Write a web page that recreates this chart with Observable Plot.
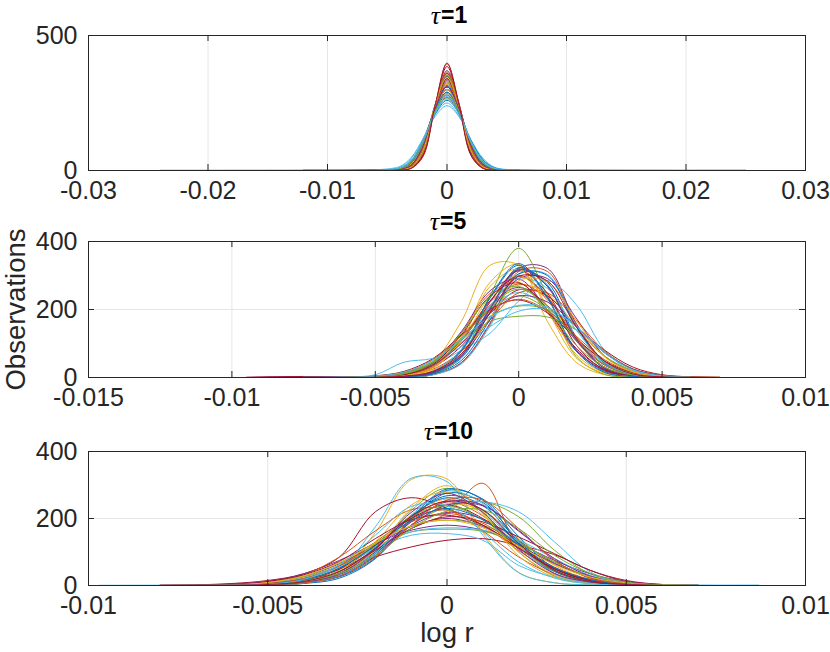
<!DOCTYPE html>
<html>
<head>
<meta charset="utf-8">
<script src="https://cdn.jsdelivr.net/npm/d3@7"></script>
<script src="https://cdn.jsdelivr.net/npm/@observablehq/plot@0.6"></script>
<style>
  body { margin: 0; background: #fff; }
  #chart { width: 830px; height: 652px; position: relative; }
  #chart svg { display: block; }
</style>
</head>
<body>
<div id="chart"></div>
<script>
// MATLAB default line colour order
const colors = ["#0072BD", "#D95319", "#EDB120", "#7E2F8E", "#77AC30", "#4DBEEE", "#A2142F"];

// ---------- tau = 1 ----------
const tau1Grid = [-0.024, -0.012, -0.006, -0.004, -0.003, -0.002, -0.001, 0, 0.001, 0.002, 0.003, 0.004, 0.006, 0.012, 0.025];
const tau1Curves = [
  [null, null, 1, 3, 15, 80, 230, 330, 238, 88, 17, 3, 1, 0.5, 0.3],
  [null, null, 0.5, 2, 8, 52, 236, 395, 250, 58, 9, 2, 0.5, null, null],
  [null, null, 1, 3, 13, 78, 242, 350, 232, 72, 12, 3, 1, null, null],
  [0.3, 0.5, 1, 2, 10, 62, 232, 370, 248, 70, 11, 2, 0.5, null, null],
  [0.3, 0.5, 1, 4, 20, 94, 236, 320, 228, 84, 16, 4, 1, null, null],
  [null, null, 2, 11, 44, 118, 208, 250, 202, 110, 40, 9, 2, null, null],
  [null, 0.5, 1, 2, 9, 58, 238, 385, 246, 62, 9, 2, 0.5, null, null],
  [null, null, 1, 6, 26, 102, 230, 300, 222, 92, 22, 5, 1, null, null],
  [null, null, 1, 3, 14, 76, 232, 340, 240, 82, 16, 3, 1, null, null],
  [null, null, 1, 3, 12, 68, 236, 360, 244, 74, 12, 3, 1, 0.5, null],
  [null, null, 2, 7, 32, 108, 222, 280, 214, 100, 28, 6, 1, null, null],
  [null, null, 1, 5, 22, 94, 222, 300, 230, 100, 26, 5, 1, null, null],
  [null, null, 1, 4, 17, 86, 236, 330, 232, 82, 15, 3, 1, null, null],
  [null, 0.5, 2, 8, 36, 112, 218, 270, 210, 104, 32, 6, 1, null, null],
  [null, null, 1, 3, 14, 80, 244, 350, 232, 70, 12, 3, 1, null, null],
  [null, null, 1, 5, 22, 96, 232, 310, 226, 90, 20, 4, 1, null, null],
  [null, null, 1, 3, 15, 82, 230, 330, 238, 86, 17, 4, 1, null, null],
  [null, null, 1, 3, 12, 72, 234, 350, 242, 78, 14, 3, 1, null, null],
  [null, null, 2, 8, 34, 106, 212, 270, 216, 110, 36, 7, 1, null, null],
  [null, null, 3, 14, 48, 118, 200, 240, 200, 114, 46, 12, 2, 0.5, 0.3],
  [null, null, 1, 3, 12, 72, 240, 360, 240, 70, 12, 3, 1, null, null],
  [null, null, 2, 8, 36, 110, 208, 260, 212, 112, 40, 9, 2, 0.5, 0.3],
  [null, null, 1, 6, 28, 102, 224, 290, 220, 98, 26, 5, 1, null, null],
  [null, null, 1, 4, 19, 92, 234, 320, 228, 86, 17, 4, 1, null, null],
  [null, null, 1, 5, 24, 100, 228, 300, 224, 94, 23, 5, 1, null, null],
  [null, null, 1, 3, 14, 78, 234, 340, 238, 80, 15, 3, 1, null, null],
  [null, null, 1, 6, 27, 100, 222, 290, 222, 100, 27, 6, 1, 0.5, 0.3],
  [null, 0.5, 1, 4, 21, 93, 229, 310, 229, 93, 21, 4, 1, null, null],
  [null, null, 1, 4, 19, 90, 226, 315, 232, 92, 20, 4, 1, null, null],
  [null, null, 1, 2, 11, 66, 238, 365, 242, 72, 11, 2, 0.5, null, null],
  [null, null, 1, 5, 24, 98, 230, 300, 222, 94, 22, 5, 1, null, null],
  [null, null, 1, 3, 15, 80, 228, 335, 240, 86, 17, 3, 1, null, null],
  [null, 0.5, 1, 3, 12, 70, 238, 355, 238, 72, 13, 3, 1, null, null],
  [null, null, 2, 8, 33, 106, 214, 275, 218, 108, 33, 7, 1, 0.5, 0.3],
  [null, null, 1, 3, 14, 78, 236, 340, 236, 78, 14, 3, 1, null, null],
  [null, null, 1, 6, 28, 104, 226, 290, 218, 96, 25, 5, 1, null, null],
  [null, null, 1, 4, 17, 86, 232, 325, 232, 86, 17, 4, 1, null, null],
  [null, null, 1, 3, 13, 76, 240, 345, 236, 76, 14, 3, 1, 0.5, null],
  [null, null, 1, 4, 20, 92, 228, 310, 230, 94, 22, 4, 1, null, null],
  [0.3, 0.5, 1, 6, 30, 104, 220, 285, 220, 102, 29, 6, 1, null, null],
  [null, null, 2, 9, 38, 112, 212, 265, 210, 108, 36, 8, 2, 0.5, 0.3],
  [null, null, 0.5, 2, 8, 54, 240, 398, 244, 56, 8, 2, 0.5, null, null]
];
const tau1XTicks = [-0.03, -0.02, -0.01, 0, 0.01, 0.02, 0.03];
const tau1XLabels = ["-0.03", "-0.02", "-0.01", "0", "0.01", "0.02", "0.03"];
const tau1YTicks = [0, 500];
const tau1YLabels = ["0", "500"];

// ---------- tau = 5 ----------
const tau5Grid = [-0.0095, -0.0075, -0.006, -0.005, -0.004, -0.003, -0.002, -0.001, 0, 0.001, 0.002, 0.003, 0.004, 0.005, 0.006, 0.007];
const tau5Curves = [
  [null, null, 0.5, 1, 3, 12, 57, 192, 323, 272, 114, 27, 6, 1, 0.5, null],
  [null, null, 0.5, 2, 7, 30, 108, 225, 300, 238, 108, 30, 7, 2, 0.5, null],
  [null, null, 0.5, 1, 8, 45, 165, 330, 330, 165, 45, 8, 2, 0.5, null, null],
  [0.3, 3, 1, 1, 2, 8, 44, 160, 321, 321, 160, 44, 8, 2, 0.5, null],
  [null, null, 0.3, 1, 2, 9, 62, 241, 380, 241, 62, 9, 2, 1, 0.3, null],
  [null, 0.5, 1, 3, 8, 35, 80, 130, 225, 285, 215, 80, 15, 3, 0.5, null],
  [null, null, 0.5, 2, 8, 30, 92, 188, 258, 240, 150, 80, 30, 8, 2, 0.5],
  [null, null, 0.5, 1, 3, 14, 68, 205, 315, 280, 120, 28, 5, 1, 0.3, null],
  [null, null, 0.5, 2, 10, 41, 131, 247, 280, 191, 78, 22, 6, 2, 0.5, null],
  [null, null, 0.5, 1, 5, 28, 117, 280, 333, 198, 58, 12, 3, 1, null, null],
  [null, null, 0.5, 1, 4, 17, 63, 175, 291, 291, 175, 63, 17, 4, 1, null],
  [null, null, 1, 4, 14, 42, 100, 165, 180, 178, 140, 75, 25, 6, 1.5, null],
  [null, null, 1, 3, 11, 43, 115, 206, 250, 206, 115, 43, 11, 3, 1, null],
  [null, 3, 1, 2, 7, 30, 108, 225, 298, 235, 110, 30, 7, 2, 0.5, null],
  [null, null, 0.5, 1, 4, 18, 82, 233, 330, 233, 82, 18, 4, 1, 0.5, null],
  [null, null, 0.5, 1, 2, 8, 42, 156, 312, 312, 156, 42, 8, 2, 0.5, null],
  [null, null, 0.5, 2, 8, 35, 102, 203, 272, 246, 151, 63, 18, 3, 1, null],
  [null, null, 0.5, 1, 8, 43, 135, 255, 290, 198, 81, 20, 5, 1, null, null],
  [null, null, 1, 3, 13, 47, 116, 200, 240, 200, 116, 47, 13, 3, 1, 0.5],
  [null, null, 0.5, 1, 2, 8, 40, 151, 303, 303, 151, 40, 8, 2, 0.5, null],
  [0.3, 2, 1, 5, 18, 55, 125, 200, 228, 190, 115, 48, 14, 3, 1, null],
  [null, null, 0.5, 1, 3, 13, 62, 200, 322, 268, 112, 26, 5, 1, 0.5, null],
  [null, null, 1, 2, 7, 24, 77, 169, 249, 249, 169, 77, 24, 7, 2, 0.5],
  [null, null, 0.5, 2, 7, 30, 108, 238, 300, 226, 108, 30, 7, 2, 0.5, null],
  [null, 2, 1, 3, 9, 36, 109, 212, 265, 212, 109, 36, 9, 3, 1, null],
  [null, null, 1, 4, 14, 45, 110, 180, 210, 200, 140, 62, 20, 5, 1.5, null],
  [null, 1, 2, 8, 45, 56, 90, 150, 195, 200, 150, 75, 22, 5, 1, null],
  [null, null, 0.5, 1, 4, 16, 78, 222, 314, 248, 96, 22, 5, 1, 0.5, null],
  [null, null, 0.5, 1, 3, 10, 50, 170, 305, 300, 150, 42, 8, 2, 0.5, null],
  [null, null, 0.5, 2, 8, 34, 112, 222, 275, 232, 118, 38, 9, 2, 0.5, null],
  [null, null, 0.5, 1, 5, 26, 110, 268, 318, 210, 68, 14, 3, 1, null, null],
  [null, null, 1, 3, 10, 36, 100, 190, 240, 222, 150, 72, 24, 6, 1.5, 0.3],
  [null, null, 1, 3, 10, 38, 112, 208, 260, 210, 112, 38, 10, 3, 1, null],
  [null, null, 0.5, 1, 4, 20, 80, 210, 292, 262, 140, 44, 9, 2, 0.5, null],
  [0.3, 2, 1, 2, 8, 38, 125, 240, 278, 200, 86, 24, 6, 2, 0.5, null],
  [null, null, 0.5, 1, 3, 15, 78, 236, 335, 236, 78, 15, 3, 1, null, null],
  [null, null, 1, 4, 15, 52, 122, 196, 230, 196, 122, 52, 15, 4, 1, 0.3],
  [null, null, 0.5, 1, 5, 20, 70, 175, 285, 282, 168, 60, 16, 4, 1, null],
  [null, null, 0.5, 1, 3, 14, 64, 202, 318, 268, 114, 28, 6, 1, 0.5, null],
  [null, null, 1, 3, 11, 44, 130, 236, 268, 200, 95, 30, 7, 2, 0.5, null],
  [null, 0.5, 1, 4, 16, 50, 112, 178, 212, 206, 150, 72, 22, 5, 1, null],
  [null, null, 0.5, 1, 4, 18, 70, 190, 298, 284, 150, 48, 10, 2, 0.5, null]
];
const tau5XTicks = [-0.015, -0.01, -0.005, 0, 0.005, 0.01];
const tau5XLabels = ["-0.015", "-0.01", "-0.005", "0", "0.005", "0.01"];
const tau5YTicks = [0, 200, 400];
const tau5YLabels = ["0", "200", "400"];

// ---------- tau = 10 ----------
const tau10Grid = [-0.0097, -0.008, -0.007, -0.006, -0.005, -0.004, -0.003, -0.002, -0.001, 0, 0.001, 0.002, 0.003, 0.004, 0.005, 0.006, 0.007, 0.0087];
const tau10Curves = [
  [null, null, null, 0.5, 2, 8, 26, 82, 194, 284, 258, 146, 51, 14, 4, 1, 0.3, null],
  [null, null, 0.3, 1, 4, 16, 50, 115, 204, 250, 208, 118, 45, 12, 3, 1, null, null],
  [null, null, 0.3, 0.5, 1, 6, 39, 158, 316, 318, 158, 39, 8, 2, 0.5, null, null, null],
  [null, null, null, 0.5, 3, 12, 42, 104, 178, 218, 198, 134, 66, 25, 7, 1.5, 0.3, null],
  [null, null, 0.3, 1, 2, 7, 30, 106, 224, 290, 218, 100, 28, 7, 2, 0.5, null, null],
  [0.3, 0.5, 1, 1, 3, 10, 48, 175, 320, 310, 150, 38, 8, 2, 1, 0.5, 0.3, 0.3],
  [null, 0.5, 1, 2, 5, 18, 40, 85, 115, 135, 140, 120, 92, 45, 12, 2, 0.5, null],
  [null, null, 0.3, 1, 3, 9, 28, 88, 196, 276, 248, 136, 46, 12, 3, 1, null, null],
  [null, null, 0.3, 1, 3, 10, 40, 100, 170, 215, 305, 115, 50, 18, 5, 1, null, null],
  [null, null, 0.3, 1, 3, 12, 40, 104, 196, 244, 222, 140, 60, 18, 4, 1, null, null],
  [null, null, 0.5, 2, 9, 27, 65, 121, 176, 200, 176, 121, 65, 27, 9, 2, 0.5, null],
  [null, null, null, 0.5, 3, 10, 35, 95, 180, 235, 250, 205, 105, 35, 8, 2, 0.5, null],
  [null, null, 0.3, 2, 6, 20, 55, 110, 150, 155, 135, 60, 25, 8, 2, 0.5, null, null],
  [null, 0.5, 2, 6, 15, 35, 85, 220, 262, 230, 180, 110, 50, 15, 4, 1, null, null],
  [null, null, 0.3, 1, 3, 10, 36, 100, 205, 268, 238, 132, 45, 12, 3, 1, null, null],
  [null, null, 0.5, 1, 5, 20, 60, 130, 200, 225, 180, 104, 42, 13, 3, 1, null, null],
  [null, null, 0.5, 1, 3, 12, 40, 110, 210, 258, 220, 118, 42, 10, 2, 0.5, null, null],
  [null, 0.5, 1, 3, 12, 35, 75, 125, 165, 180, 165, 125, 75, 35, 12, 3, 1, null],
  [null, null, 0.5, 2, 8, 25, 60, 115, 160, 168, 162, 125, 70, 25, 6, 1, null, null],
  [null, null, 0.3, 1, 3, 10, 35, 95, 180, 240, 250, 220, 130, 40, 8, 2, 0.5, 0.3],
  [null, null, 0.5, 1, 4, 15, 50, 120, 200, 240, 200, 120, 50, 15, 4, 1, null, null],
  [null, null, null, 0.5, 2, 6, 22, 80, 200, 288, 255, 128, 36, 7, 2, 0.5, null, null],
  [null, 0.3, 1, 2, 9, 32, 85, 163, 226, 226, 163, 85, 32, 9, 2, 0.5, null, null],
  [null, null, 0.3, 0.5, 2, 8, 32, 105, 230, 298, 215, 88, 24, 5, 1, null, null, null],
  [null, null, null, 0.5, 2, 9, 30, 90, 180, 240, 238, 165, 75, 22, 5, 1, null, null],
  [null, null, 0.5, 2, 8, 28, 68, 128, 178, 195, 180, 130, 70, 26, 7, 1.5, 0.3, null],
  [null, null, 0.5, 2, 7, 22, 58, 112, 160, 172, 165, 135, 80, 30, 8, 2, 0.5, 0.3],
  [null, null, 0.5, 2, 6, 18, 48, 105, 170, 205, 190, 145, 95, 45, 15, 3, 0.5, null],
  [null, null, 0.3, 1, 3, 12, 42, 112, 208, 262, 225, 122, 42, 11, 3, 1, null, null],
  [null, null, 0.5, 2, 6, 21, 58, 124, 190, 215, 186, 118, 54, 18, 5, 1, null, null],
  [null, null, 0.3, 1, 3, 12, 45, 130, 240, 278, 210, 100, 32, 7, 2, 0.5, null, null],
  [null, null, null, 0.5, 2, 9, 32, 95, 190, 250, 240, 162, 80, 28, 7, 1.5, 0.3, null],
  [null, null, 0.5, 1, 4, 16, 52, 124, 206, 238, 196, 112, 44, 12, 3, 1, null, null],
  [0.3, 0.5, 0.5, 1, 2, 8, 30, 96, 210, 282, 244, 120, 36, 8, 2, 0.5, 0.3, 0.3],
  [null, 0.5, 1.5, 4, 12, 32, 72, 140, 196, 210, 180, 112, 50, 15, 4, 1, null, null],
  [null, null, 0.3, 1, 4, 17, 52, 119, 194, 230, 196, 121, 54, 17, 4, 1, null, null],
  [null, null, null, 0.5, 2, 8, 28, 85, 180, 255, 255, 170, 75, 22, 5, 1, null, null],
  [null, 0.3, 0.5, 2, 9, 28, 68, 126, 178, 195, 172, 118, 62, 25, 8, 2, 0.5, null],
  [null, null, 0.3, 1, 3, 10, 36, 108, 218, 275, 218, 108, 36, 10, 3, 1, null, null],
  [null, null, null, 1, 3, 12, 36, 90, 170, 222, 225, 170, 90, 36, 10, 2, 0.5, null],
  [null, 0.3, 0.5, 1, 4, 18, 62, 150, 236, 238, 160, 70, 22, 5, 1, 0.5, 0.3, 0.3],
  [null, null, 0.5, 1, 3, 12, 42, 110, 206, 252, 226, 125, 45, 12, 3, 1, null, null]
];
const tau10XTicks = [-0.01, -0.005, 0, 0.005, 0.01];
const tau10XLabels = ["-0.01", "-0.005", "0", "0.005", "0.01"];
const tau10YTicks = [0, 200, 400];
const tau10YLabels = ["0", "200", "400"];

const axisColor = "#262626";
const gridColor = "#e6e6e6";
const W = 830, ML = 88, MR = 25;

function panel(o) {
  const rows = o.curves.flatMap((vals, i) => vals.map((v, j) => ({x: o.grid[j], y: v, id: i})));
  const frameH = o.height - o.marginTop - o.marginBottom;
  const frameW = W - ML - MR;
  const innerX = o.xTicks.slice(1, -1);
  const innerY = o.yTicks.slice(1, -1);
  const marks = [
    Plot.ruleX(innerX, {x: d => d, stroke: gridColor, strokeWidth: 1}),
    Plot.ruleY(innerY, {y: d => d, stroke: gridColor, strokeWidth: 1}),
    Plot.line(rows, {x: "x", y: "y", z: "id", stroke: d => colors[d.id % 7], curve: "catmull-rom", strokeWidth: 1, clip: true}),
    // inward tick marks (bottom, top, left, right)
    Plot.ruleX(o.xTicks, {x: d => d, insetTop: frameH - 6, stroke: axisColor}),
    Plot.ruleX(o.xTicks, {x: d => d, insetBottom: frameH - 6, stroke: axisColor}),
    Plot.ruleY(o.yTicks, {y: d => d, insetRight: frameW - 6, stroke: axisColor}),
    Plot.ruleY(o.yTicks, {y: d => d, insetLeft: frameW - 6, stroke: axisColor}),
    Plot.frame({stroke: axisColor, strokeWidth: 1}),
    Plot.axisX({ticks: o.xTicks, tickFormat: d => o.xLabels[o.xTicks.indexOf(d)], tickSize: 0, tickPadding: 11, label: null, fill: axisColor}),
    Plot.axisY({ticks: o.yTicks, tickFormat: d => o.yLabels[o.yTicks.indexOf(d)], tickSize: 0, tickPadding: 11, label: null, fill: axisColor}),
    Plot.text([o.tau], {text: d => d, frameAnchor: "top", dy: -20, dx: o.tauDx, textAnchor: "end", lineAnchor: "middle", fontFamily: "Liberation Serif", fontStyle: "italic", fontSize: 26, fill: "#000"}),
    Plot.text([o.rest], {text: d => d, frameAnchor: "top", dy: -19.5, dx: o.tauDx + 1, textAnchor: "start", lineAnchor: "middle", fontFamily: "Liberation Sans", fontWeight: "bold", fontSize: 23, fill: "#000"})
  ];
  if (o.extra) marks.push(...o.extra);
  return Plot.plot({
    width: W,
    height: o.height,
    marginLeft: ML,
    marginRight: MR,
    marginTop: o.marginTop,
    marginBottom: o.marginBottom,
    x: {domain: o.xDomain, axis: null},
    y: {domain: o.yDomain, axis: null},
    color: {type: "identity"},
    style: {fontFamily: "Liberation Sans, Arial, sans-serif", fontSize: "25px", color: axisColor, background: "transparent", overflow: "visible"},
    marks
  });
}

const chart = document.getElementById("chart");

chart.append(panel({
  grid: tau1Grid, curves: tau1Curves,
  xDomain: [-0.03, 0.03], yDomain: [0, 500],
  xTicks: tau1XTicks, xLabels: tau1XLabels, yTicks: tau1YTicks, yLabels: tau1YLabels,
  tau: "τ", rest: "=1", tauDx: -7,
  height: 206, marginTop: 35, marginBottom: 36
}));

chart.append(panel({
  grid: tau5Grid, curves: tau5Curves,
  xDomain: [-0.015, 0.01], yDomain: [0, 400],
  xTicks: tau5XTicks, xLabels: tau5XLabels, yTicks: tau5YTicks, yLabels: tau5YLabels,
  tau: "τ", rest: "=5", tauDx: -8,
  height: 204, marginTop: 35, marginBottom: 33,
  extra: [
    Plot.text(["Observations"], {text: d => d, frameAnchor: "left", dx: -72, rotate: -90, textAnchor: "middle", lineAnchor: "middle", fontSize: 27.5, fill: axisColor})
  ]
}));

chart.append(panel({
  grid: tau10Grid, curves: tau10Curves,
  xDomain: [-0.01, 0.01], yDomain: [0, 400],
  xTicks: tau10XTicks, xLabels: tau10XLabels, yTicks: tau10YTicks, yLabels: tau10YLabels,
  tau: "τ", rest: "=10", tauDx: -14,
  height: 242, marginTop: 41, marginBottom: 67,
  extra: [
    Plot.text(["log r"], {text: d => d, frameAnchor: "bottom", dy: 37, lineAnchor: "top", fontSize: 27.5, fill: axisColor})
  ]
}));
</script>
</body>
</html>
